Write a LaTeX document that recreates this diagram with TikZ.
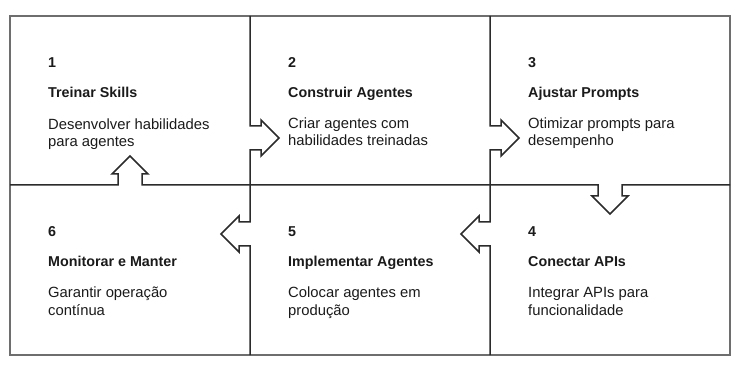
\documentclass[tikz,border=0pt]{standalone}
\usepackage{fontspec}
\setmainfont{Liberation Sans}
\definecolor{linea}{HTML}{2B2B2B}
\definecolor{marco}{HTML}{6E6E6E}
\definecolor{texto}{HTML}{1A1A1A}
\begin{document}
\begin{tikzpicture}[x=1pt,y=-1pt,
  paso/.style={anchor=base west,inner sep=0pt,font=\fontsize{14.3}{17.5}\selectfont\bfseries,text=texto},
  desc/.style={anchor=base west,inner sep=0pt,font=\fontsize{14.8}{17.5}\selectfont,text=texto,align=left},
  borde/.style={line width=1.5pt,color=linea,line join=miter}]
  \useasboundingbox (0,0) rectangle (750,366);
  \draw[line width=1.5pt,color=marco] (10,16) rectangle (730,355);

  \draw[borde] (250,16) -- (250,126) -- (261,126) -- (261,120) -- (279,138) -- (261,156) -- (261,150) -- (250,150) -- (250,185);
  \draw[borde] (490,16) -- (490,126) -- (501,126) -- (501,120) -- (519,138) -- (501,156) -- (501,150) -- (490,150) -- (490,185);
  \draw[borde] (250,185) -- (250,222) -- (239,222) -- (239,216) -- (221,234) -- (239,252) -- (239,246) -- (250,246) -- (250,355);
  \draw[borde] (490,185) -- (490,222) -- (479,222) -- (479,216) -- (461,234) -- (479,252) -- (479,246) -- (490,246) -- (490,355);
  \draw[borde] (10,185) -- (118,185) -- (118,174) -- (112,174) -- (130,156) -- (148,174) -- (142,174) -- (142,185)
    -- (598,185) -- (598,196) -- (592,196) -- (610,214) -- (628,196) -- (622,196) -- (622,185) -- (730,185);

  % la base de cada texto es su segunda linea
  \node[paso] (num1) at (48,68) {1};
  \node[paso] (tit1) at (48,98) {Treinar Skills};
  \node[desc] (txt1) at (48,147) {Desenvolver habilidades\\para agentes};

  \node[paso] (num2) at (288,68) {2};
  \node[paso] (tit2) at (288,98) {Construir Agentes};
  \node[desc] (txt2) at (288,146) {Criar agentes com\\habilidades treinadas};

  \node[paso] (num3) at (528,68) {3};
  \node[paso] (tit3) at (528,98) {Ajustar Prompts};
  \node[desc] (txt3) at (528,146) {Otimizar prompts para\\desempenho};

  \node[paso] (num4) at (528,237) {4};
  \node[paso] (tit4) at (528,267) {Conectar APIs};
  \node[desc] (txt4) at (528,315) {Integrar APIs para\\funcionalidade};

  \node[paso] (num5) at (288,237) {5};
  \node[paso] (tit5) at (288,267) {Implementar Agentes};
  \node[desc] (txt5) at (288,315) {Colocar agentes em\\produção};

  \node[paso] (num6) at (48,237) {6};
  \node[paso] (tit6) at (48,267) {Monitorar e Manter};
  \node[desc] (txt6) at (48,315) {Garantir operação\\contínua};
\end{tikzpicture}
\end{document}
